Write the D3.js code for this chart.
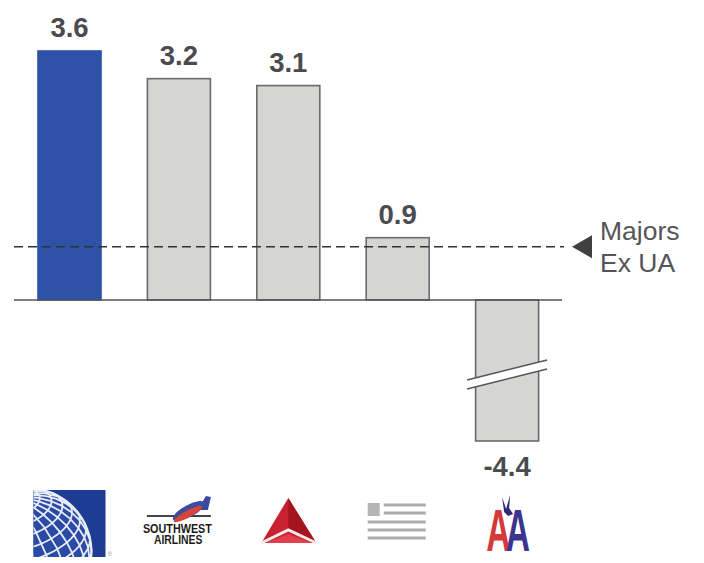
<!DOCTYPE html>
<html><head><meta charset="utf-8">
<script src="https://cdn.jsdelivr.net/npm/d3@7"></script>
<style>html,body{margin:0;padding:0;background:#fff;}svg{display:block;}</style>
</head><body>
<svg id="chart" width="704" height="563"></svg>
<script>
// ---- data ----
const airlines = ["United", "Southwest", "Delta", "Other", "American"];
const values = [3.6, 3.2, 3.1, 0.9, -4.4];
const valueLabels = ["3.6", "3.2", "3.1", "0.9", "-4.4"];
const majorsExUA = 0.77;
const refLabel = ["Majors", "Ex UA"];
const breakValue = -1.1;   // axis break position for the truncated bar

const svg = d3.select("#chart");
svg.append("rect").attr("width", 704).attr("height", 563).attr("fill", "#fff");

const x = d3.scaleBand().domain(airlines).range([14.8, 561.8]).paddingInner(0.424).paddingOuter(0.212);
// piecewise (broken) value scale
const y = d3.scaleLinear().domain([d3.min(values), breakValue, d3.max(values)]).range([441, 376, 51]);

const fontB = "'Liberation Sans',Arial,sans-serif";
const fontR = "'Liberation Sans',Arial,sans-serif";

// bars
svg.selectAll("rect.bar").data(airlines).enter().append("rect")
  .attr("class", "bar")
  .attr("x", d => x(d))
  .attr("width", x.bandwidth())
  .attr("y", (d, i) => y(Math.max(0, values[i])))
  .attr("height", (d, i) => Math.abs(y(values[i]) - y(0)))
  .attr("fill", (d, i) => i === 0 ? "#2d52a7" : "#d5d5d3")
  .attr("stroke", (d, i) => i === 0 ? "#2d52a7" : "#6a6a6a")
  .attr("stroke-width", 1.6);

// break marks on negative bar
values.forEach((v, i) => {
  if (v < breakValue) {
    const cx = x(airlines[i]) + x.bandwidth() / 2, cy = y(breakValue) - 1.5;
    const hw = 40, rise = 10, gap = 4.5;
    svg.append("path")
      .attr("d", `M${cx - hw},${cy + rise - gap}L${cx + hw},${cy - rise - gap}L${cx + hw},${cy - rise + gap}L${cx - hw},${cy + rise + gap}Z`)
      .attr("fill", "#fff");
    [-gap, gap].forEach(g => svg.append("line")
      .attr("x1", cx - hw).attr("y1", cy + rise + g).attr("x2", cx + hw).attr("y2", cy - rise + g)
      .attr("stroke", "#555").attr("stroke-width", 1.6));
  }
});

// baseline
svg.append("line").attr("x1", 14).attr("x2", 562).attr("y1", y(0)).attr("y2", y(0))
  .attr("stroke", "#555").attr("stroke-width", 1.6);

// dashed majors line
svg.append("line").attr("x1", 14).attr("x2", 564).attr("y1", y(majorsExUA)).attr("y2", y(majorsExUA))
  .attr("stroke", "#333").attr("stroke-width", 1.4).attr("stroke-dasharray", "9,5");
const ty = y(majorsExUA);
svg.append("path").attr("d", `M572,${ty}L592,${ty - 11.5}L592,${ty + 11.5}Z`).attr("fill", "#404040");
svg.append("text").attr("x", 600).attr("y", ty - 6.5).attr("font-family", fontR).attr("font-size", 26.5)
  .attr("fill", "#555559").text(refLabel[0]);
svg.append("text").attr("x", 600).attr("y", ty + 25.5).attr("font-family", fontR).attr("font-size", 26.5)
  .attr("fill", "#555559").text(refLabel[1]);

// value labels
svg.selectAll("text.val").data(airlines).enter().append("text")
  .attr("class", "val")
  .attr("x", d => x(d) + x.bandwidth() / 2)
  .attr("y", (d, i) => values[i] >= 0 ? y(values[i]) - 14 : y(values[i]) + 35)
  .attr("text-anchor", "middle")
  .attr("font-family", fontB).attr("font-weight", "bold").attr("font-size", 27.5)
  .attr("fill", "#4a4a4f")
  .text((d, i) => valueLabels[i]);

// ---- logos ----
const logoY = 490;
function cxOf(d) { return x(d) + x.bandwidth() / 2; }

// United: blue square with globe
(function () {
  const cx = cxOf("United");
  const g = svg.append("g");
  const x0 = cx - 36, y0 = logoY, w = 72, h = 67;
  g.append("clipPath").attr("id", "uclip").append("rect").attr("x", x0).attr("y", y0).attr("width", w).attr("height", h);
  g.append("rect").attr("x", x0).attr("y", y0).attr("width", w).attr("height", h).attr("fill", "#1f3c94");
  const proj = d3.geoOrthographic().scale(64).translate([x0 - 6, y0 + 62]).rotate([-35, -30, 15]);
  const path = d3.geoPath(proj);
  const gg = g.append("g").attr("clip-path", "url(#uclip)");
  gg.append("path").datum({type: "Sphere"}).attr("d", path).attr("fill", "#2a4aa6");
  gg.append("path").datum(d3.geoGraticule().step([13, 11])()).attr("d", path)
    .attr("fill", "none").attr("stroke", "#e8ecf6").attr("stroke-width", 1.8);
  gg.append("path").datum({type: "Sphere"}).attr("d", path).attr("fill", "none")
    .attr("stroke", "#e8ecf6").attr("stroke-width", 2);
  g.append("text").attr("x", x0 + w + 2).attr("y", y0 + h - 1).attr("font-size", 6).attr("font-family", fontR)
    .attr("fill", "#8a8fa8").text("®");
})();

// Southwest: plane + wordmark
(function () {
  const cx = cxOf("Southwest");
  const g = svg.append("g");
  g.append("line").attr("x1", cx - 32).attr("x2", cx + 32).attr("y1", logoY + 26).attr("y2", logoY + 26)
    .attr("stroke", "#444").attr("stroke-width", 2);
  g.append("path").attr("d", `M${cx + 19},${logoY + 20}L${cx + 27},${logoY + 6}L${cx + 32},${logoY + 7}L${cx + 29},${logoY + 20}Z`)
    .attr("fill", "#3a4a9e");
  g.append("ellipse").attr("cx", cx + 10).attr("cy", logoY + 21).attr("rx", 18).attr("ry", 6)
    .attr("transform", `rotate(-28,${cx + 10},${logoY + 21})`).attr("fill", "#3b4d9f");
  g.append("ellipse").attr("cx", cx + 9).attr("cy", logoY + 24).attr("rx", 16).attr("ry", 3.5)
    .attr("transform", `rotate(-28,${cx + 9},${logoY + 24})`).attr("fill", "#d8433a");
  const t = g.append("text").attr("transform", `translate(${cx - 1.5},${logoY + 43}) scale(0.8,1)`)
    .attr("text-anchor", "middle").attr("font-family", fontB).attr("font-weight", "bold")
    .attr("font-size", 13.5).attr("fill", "#1a1a1a");
  t.append("tspan").attr("x", 0).attr("dy", 0).text("SOUTHWEST");
  t.append("tspan").attr("x", 1).attr("dy", 11).attr("font-size", 13).text("AIRLINES");
})();

// Delta: red triangle with white chevron
(function () {
  const cx = cxOf("Delta");
  const g = svg.append("g");
  const top = logoY + 8, base = logoY + 53;
  g.append("path").attr("d", `M${cx},${top}L${cx + 28},${base}L${cx - 27},${base}Z`).attr("fill", "#c8202e");
  g.append("path").attr("d", `M${cx},${top}L${cx + 28},${base}L${cx},${base - 13}Z`).attr("fill", "#a4141f");
  g.append("path").attr("d", `M${cx - 27},${base}L${cx},${base - 13}L${cx + 28},${base}`)
    .attr("fill", "none").attr("stroke", "#fbe8ea").attr("stroke-width", 3);
  g.append("path").attr("d", `M${cx - 23},${base}L${cx},${base - 9}L${cx + 24},${base}Z`).attr("fill", "#e0404c");
})();

// Other: placeholder glyph
(function () {
  const cx = cxOf("Other");
  const g = svg.append("g");
  const l = cx - 30, r = cx + 28;
  g.append("rect").attr("x", l).attr("y", logoY + 13).attr("width", 12).attr("height", 13).attr("fill", "#b4b4b4");
  [[l + 16, logoY + 15], [l + 16, logoY + 23], [l, logoY + 32], [l, logoY + 40], [l, logoY + 48]].forEach(p =>
    g.append("line").attr("x1", p[0]).attr("x2", r).attr("y1", p[1]).attr("y2", p[1])
      .attr("stroke", "#ababab").attr("stroke-width", 3));
})();

// American: AA with eagle
(function () {
  const cx = cxOf("American");
  const g = svg.append("g");
  const t = g.append("text").attr("transform", `translate(${cx + 1},${logoY + 61}) scale(0.6,1.06)`)
    .attr("text-anchor", "middle").attr("font-family", fontB).attr("font-weight", "bold").attr("font-size", 56);
  t.append("tspan").attr("fill", "#d43a3a").text("A");
  t.append("tspan").attr("fill", "#3b3590").attr("dx", -8).text("A");
  g.append("path").attr("d", `M${cx - 5},${logoY + 7}L${cx - 1},${logoY + 19}L${cx + 3},${logoY + 5}L${cx + 2},${logoY + 18}L${cx + 6},${logoY + 24}L${cx + 1},${logoY + 26}L${cx - 3},${logoY + 22}Z`)
    .attr("fill", "#2e2a78");
})();
</script>
</body></html>
